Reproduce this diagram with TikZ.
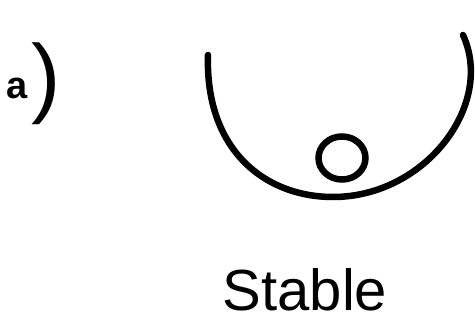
\documentclass[tikz,border=0pt]{standalone}
\usepackage{fontspec}
\setmainfont{Liberation Sans}
\usetikzlibrary{positioning,calc}
\tikzset{
  pen/.style={draw=black, line width=6.5pt, line cap=round},
  bowl/.style={pen},
  ball/.style={pen, ellipse, minimum width=47pt, minimum height=43pt, inner sep=0pt},
  partlabel/.style={font=\fontsize{88}{88}\selectfont, inner sep=0pt, anchor=base west},
  caption/.style={font=\fontsize{58}{58}\selectfont, inner sep=0pt, anchor=base}
}
\usetikzlibrary{shapes.geometric}
\begin{document}
\begin{tikzpicture}[x=1pt, y=-1pt]
  \useasboundingbox (0,0) rectangle (475,329);
  % part label
  \node[partlabel] (part) at (6,107) {\raisebox{9pt}{\fontsize{38}{38}\selectfont\bfseries a}\hspace{4pt})};
  % bowl and ball
  \coordinate (rimL) at (208,55);
  \coordinate (bottom) at (333,197);
  \coordinate (rimR) at (463,35);
  \draw[bowl] (rimL) .. controls (205,150) and (265,197) .. (bottom)
    .. controls (425,197) and (495,105) .. (rimR);
  \node[ball] (marble) at (342,158) {};
  % caption
  \node[caption] (stable) at (305,311) {Stable};
\end{tikzpicture}
\end{document}
